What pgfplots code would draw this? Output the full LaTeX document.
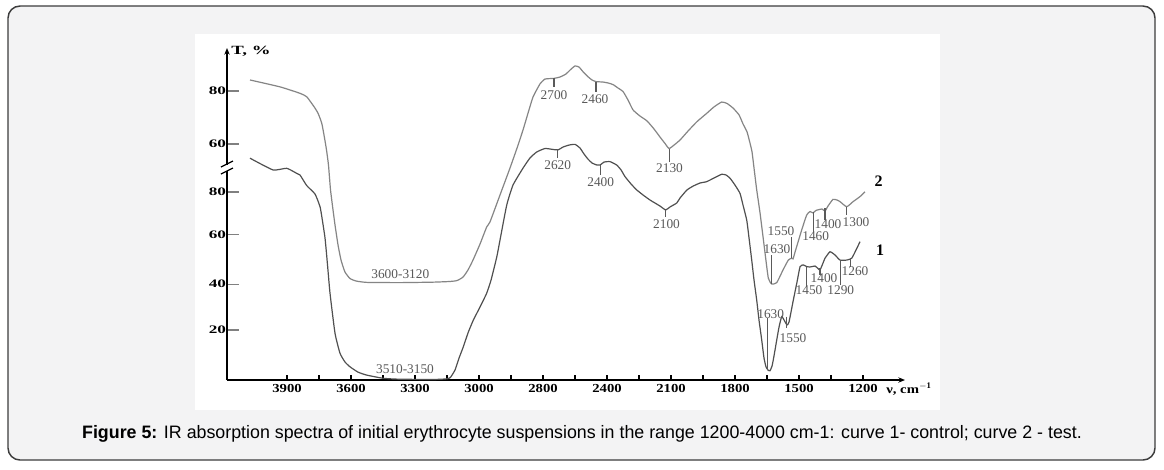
\documentclass[border=0pt]{standalone}
\usepackage{fontspec}
\setmainfont{Liberation Serif}
\newfontfamily\ytfont[FakeStretch=1.5]{Liberation Serif}
\newfontfamily\xtfont[FakeStretch=1.2]{Liberation Serif}
\newfontfamily\capfont[FakeStretch=0.99]{Liberation Sans}
\usepackage{pgfplots}
\pgfplotsset{compat=1.18}
\usetikzlibrary{arrows.meta}
\definecolor{frameBg}{HTML}{F3F3F4}
\definecolor{frameLine}{HTML}{3C3C3C}
\definecolor{cOne}{HTML}{505050}
\definecolor{cTwo}{HTML}{858585}
\definecolor{annCol}{HTML}{5A5A5A}
\newcommand{\ann}[6]{%
  \draw[annCol, line width=0.8pt] (axis cs:#1,#2) -- (axis cs:#1,#3);
  \node[annCol, font=\fontsize{10}{11}\selectfont, inner sep=0pt] at (axis cs:#4,#5) {#6};}
\begin{document}
\begin{tikzpicture}
\useasboundingbox (0,0) rectangle (873pt,-351.75pt);
\begin{scope}[x=0.75pt,y=-0.75pt]
\filldraw[fill=frameBg, draw=frameLine, line width=1.1pt, rounded corners=9pt] (8,6) rectangle (1155,460);
\fill[white] (195,34) rectangle (940,410);
\end{scope}
\begin{axis}[
  at={(170.25pt,-285pt)}, anchor=south west,
  scale only axis, width=508.5pt, height=249pt,
  xmin=-0.9375, xmax=9.656, ymin=-1.74, ymax=142.6,
  axis lines=left, clip=false,
  axis line style={black, line width=1.3pt, -{Stealth[length=5pt,width=4pt]}},
  tick align=inside,
  major tick length=9pt, minor tick length=3.4pt,
  xtick={0,1,2,3,4,5,6,7,8,9},
  xticklabels={3900,3600,3300,3000,2800,2400,2100,1800,1500,1200},
  major x tick style={draw=none},
  minor xtick={0,0.5,...,9},
  minor x tick style={black, line width=0.8pt},
  ytick={20,39.9,61.6,80,100.9,123.9},
  yticklabels={20,40,60,80,60,80},
  ytick style={draw=gray, line width=0.9pt},
  xticklabel style={font=\xtfont\bfseries\fontsize{9.2}{10}\selectfont},
  yticklabel style={font=\ytfont\bfseries\fontsize{8.6}{10}\selectfont, inner sep=0.5pt},
]
% curve 2 (test)
\addplot[cTwo, line width=0.9pt, smooth, tension=0.3] coordinates {
(-0.578,128.7) (-0.109,125.7) (0.203,122.9) (0.308,121.4) (0.422,117.1) (0.484,114.3)
(0.542,110.0) (0.578,104.8) (0.617,98.3) (0.648,91.7) (0.680,80.9) (0.719,72.2)
(0.75,65.7) (0.797,57.0) (0.844,50.4) (0.906,45.2) (0.984,42.4) (1.078,41.3)
(1.25,40.7) (1.766,40.6) (2.281,40.8) (2.547,41.1) (2.656,41.5) (2.75,43.0)
(2.828,46.1) (2.906,50.4) (3.016,57.4) (3.120,64.8) (3.172,67.0) (3.328,78.7)
(3.484,90.4) (3.594,99.1) (3.688,107.0) (3.766,114.3) (3.844,121.3) (3.953,127.0)
(4.031,129.1) (4.109,129.3) (4.172,129.4) (4.266,130.0) (4.359,131.3) (4.422,133.0)
(4.5,134.8) (4.563,134.3) (4.625,132.3) (4.703,130.1) (4.766,128.7) (4.828,128.0)
(4.938,127.8) (5.016,127.4) (5.094,126.7) (5.172,125.2) (5.25,123.7) (5.328,120.0)
(5.406,115.7) (5.516,113.0) (5.625,110.9) (5.734,107.4) (5.828,103.9) (5.906,101.1)
(5.969,98.9) (6.047,100.4) (6.141,102.6) (6.266,106.5) (6.406,110.6) (6.558,114.2)
(6.672,117.0) (6.792,119.1) (6.875,118.5) (6.969,116.5) (7.063,113.5) (7.125,109.6)
(7.188,106.1) (7.234,101.3) (7.266,97.4) (7.297,90.4) (7.339,80.9) (7.391,70.9)
(7.469,53.5) (7.520,42.6) (7.573,40.0) (7.652,40.6) (7.75,46.1) (7.833,50.4)
(7.886,51.2) (7.906,50.9) (7.938,53.9) (8.042,63.5) (8.120,70.0) (8.172,71.5)
(8.219,70.9) (8.266,72.0) (8.359,72.6) (8.406,71.7) (8.453,73.9) (8.531,76.8)
(8.594,76.5) (8.641,75.8) (8.745,73.6) (8.844,75.8) (8.953,78.0) (9.031,80.1)
};
% curve 1 (control)
\addplot[cOne, line width=0.9pt, smooth, tension=0.3] coordinates {
(-0.578,94.7) (-0.219,89.6) (-0.005,90.3) (0.152,88.1) (0.203,87.4) (0.308,82.8)
(0.438,79.1) (0.516,73.6) (0.547,68.7) (0.594,60.0) (0.633,48.3) (0.672,36.0)
(0.75,18.6) (0.828,9.9) (0.906,6.1) (0.984,4.0) (1.109,1.7) (1.245,0.4)
(1.505,-1.0) (1.766,-1.4) (2.286,-1.5) (2.469,-1.3) (2.547,-0.8) (2.625,2.6)
(2.688,7.8) (2.755,12.7) (2.828,18.7) (2.911,24.3) (3.016,30.0) (3.120,36.0)
(3.188,41.7) (3.277,51.7) (3.328,59.1) (3.433,74.3) (3.531,83.0) (3.688,90.4)
(3.797,94.8) (3.902,97.4) (4.031,98.9) (4.156,98.5) (4.234,98.3) (4.317,99.6)
(4.406,100.4) (4.5,100.7) (4.578,99.1) (4.641,96.5) (4.703,94.3) (4.766,92.6)
(4.844,91.7) (4.891,91.7) (4.953,93.0) (5.047,93.2) (5.152,91.7) (5.219,89.6)
(5.281,86.7) (5.375,83.5) (5.464,80.9) (5.563,78.7) (5.672,76.5) (5.75,75.2)
(5.828,73.9) (5.917,72.2) (5.984,73.5) (6.089,75.2) (6.141,77.4) (6.25,80.9)
(6.348,82.6) (6.453,83.9) (6.558,84.5) (6.672,86.1) (6.792,87.7) (6.859,87.4)
(6.922,86.0) (7.0,83.0) (7.078,79.4) (7.125,74.3) (7.183,67.8) (7.219,60.0)
(7.261,50.4) (7.297,41.7) (7.339,33.0) (7.375,24.3) (7.417,15.7) (7.453,7.8)
(7.484,4.0) (7.520,2.4) (7.547,2.3) (7.578,4.3) (7.598,7.0) (7.625,11.3)
(7.652,15.7) (7.688,21.3) (7.730,25.8) (7.781,23.6) (7.813,22.2) (7.844,23.5)
(7.911,33.0) (7.969,40.9) (8.016,47.5) (8.067,48.3) (8.125,47.5) (8.172,47.4)
(8.25,47.8) (8.297,46.7) (8.328,46.1) (8.375,49.1) (8.406,51.2) (8.484,54.0)
(8.563,52.6) (8.641,50.4) (8.745,50.4) (8.823,51.2) (8.891,54.8) (8.953,58.4)
};
% annotations curve 2
\ann{4.172}{129.4}{125.8}{4.172}{121.9}{2700}
\ann{4.828}{128.0}{123.6}{4.813}{120.3}{2460}
\ann{5.969}{98.7}{93.2}{5.977}{90.2}{2130}
\ann{7.573}{40.0}{52.6}{7.656}{55.1}{1630}
\ann{7.886}{51.2}{60.6}{7.719}{63.2}{1550}
\ann{8.223}{71.4}{62.6}{8.261}{60.6}{1460}
\ann{8.406}{72.9}{67.8}{8.453}{66.1}{1400}
\ann{8.745}{73.6}{70.0}{8.891}{67.1}{1300}
% annotations curve 1
\ann{4.230}{98.5}{94.7}{4.230}{91.7}{2620}
\ann{4.891}{91.7}{87.4}{4.902}{84.5}{2400}
\ann{5.917}{72.2}{69.3}{5.930}{66.0}{2100}
\ann{7.511}{2.6}{25.1}{7.558}{26.8}{1630}
\ann{7.808}{25.8}{20.9}{7.906}{16.4}{1550}
\ann{8.120}{47.5}{38.8}{8.156}{37.4}{1450}
\ann{8.328}{46.8}{43.9}{8.391}{42.5}{1400}
\ann{8.641}{50.4}{39.6}{8.652}{37.4}{1290}
\ann{8.808}{51.2}{47.5}{8.875}{45.7}{1260}
\node[annCol, font=\fontsize{10}{11}\selectfont, inner sep=0pt] at (axis cs:1.770,44.2) {3600-3120};
\node[annCol, font=\fontsize{10}{11}\selectfont, inner sep=0pt] at (axis cs:1.844,2.9) {3510-3150};
\node[font=\bfseries\fontsize{12}{13}\selectfont, inner sep=0pt] at (axis cs:9.245,84.5) {2};
\node[font=\bfseries\fontsize{12}{13}\selectfont, inner sep=0pt] at (axis cs:9.266,54.8) {1};
\end{axis}
\begin{scope}[x=0.75pt,y=-0.75pt]
% axis break
\fill[white] (223,165) rectangle (231,171);
\draw[black, line width=0.9pt] (221,167) -- (233,161);
\draw[black, line width=0.9pt] (221,174) -- (233,168);
\node[font=\ytfont\bfseries\fontsize{9.4}{10}\selectfont, anchor=west, inner sep=0pt] at (231,51) {T, \%};
\node[font=\xtfont\bfseries\fontsize{9.2}{10}\selectfont, anchor=west, inner sep=0pt] at (886,389) {ν, cm$^{\mathbf{-1}}$};
\node[font=\capfont\fontsize{13.5}{15}\selectfont, inner sep=0pt] at (582,434) {\textbf{Figure 5:} IR absorption spectra of initial erythrocyte suspensions in the range 1200-4000 cm-1: curve 1- control; curve 2 - test.};
\end{scope}
\end{tikzpicture}
\end{document}
